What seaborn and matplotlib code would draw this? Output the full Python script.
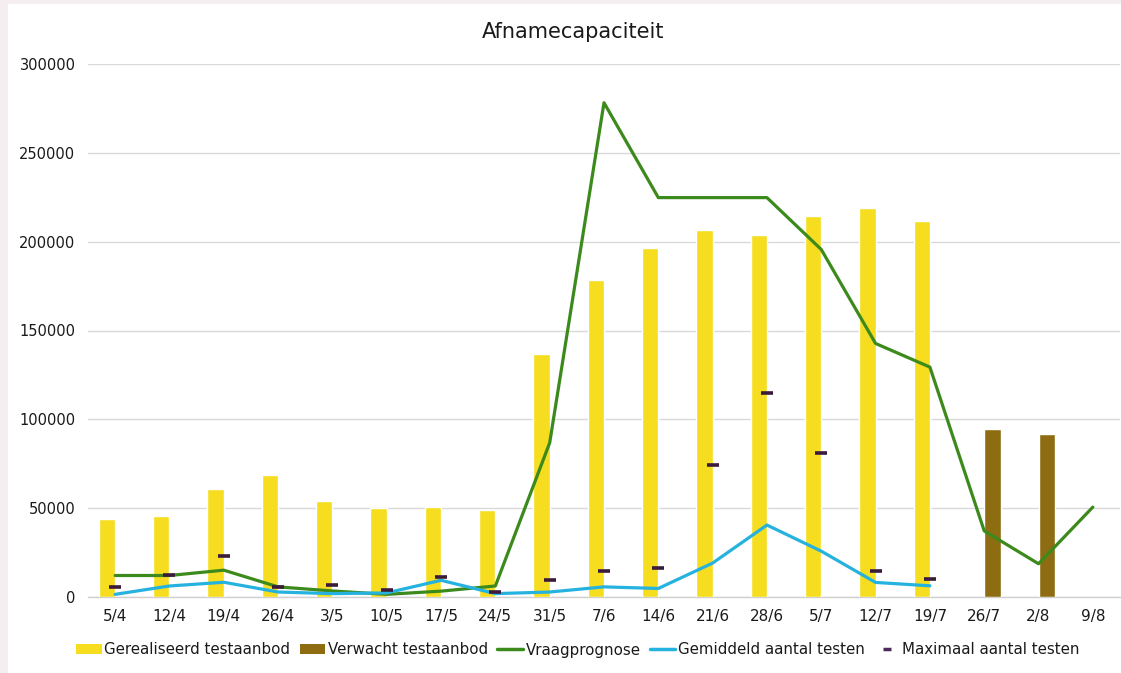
import numpy as np
import pandas as pd
import matplotlib
matplotlib.use("Agg")
import matplotlib.pyplot as plt
from matplotlib.patches import Patch, Rectangle
from matplotlib.lines import Line2D
import seaborn as sns

weeks = ["5/4", "12/4", "19/4", "26/4", "3/5", "10/5", "17/5", "24/5", "31/5",
         "7/6", "14/6", "21/6", "28/6", "5/7", "12/7", "19/7", "26/7", "2/8", "9/8"]

gerealiseerd = [43800, 45700, 60800, 68900, 53800, 50000, 50900, 49100, 137000,
                178400, 196200, 206700, 203800, 214300, 219100, 211800, np.nan, np.nan, np.nan]
verwacht = [np.nan] * 16 + [94300, 91600, np.nan]
vraagprognose = [12100, 12100, 15100, 5700, 3400, 1500, 3300, 6200, 86800,
                 278200, 224800, 224800, 224800, 195600, 142700, 129400, 37200, 18700, 50600]
gemiddeld = [1500, 6200, 8300, 2800, 1900, 2300, 9400, 1900, 2800,
             5700, 4800, 19100, 40500, 25800, 8200, 6300]
maximaal = [5800, 12500, 23000, 5800, 7000, 4000, 11500, 3000, 9800,
            14900, 16600, 74200, 114900, 80900, 14900, 10100]

yticks = [0, 50000, 100000, 150000, 200000, 250000, 300000]

c_yellow = "#f6dd1f"
c_brown = "#8e6d12"
c_green = "#3c8a1c"
c_blue = "#26b2de"
c_mark = "#3a1b3c"

sns.set_theme(style="white")
plt.rcParams['font.family'] = ['DejaVu Sans']

fig = plt.figure(figsize=(11.21, 6.73), dpi=100)
fig.patch.set_facecolor("#f5eef0")
fig.add_artist(Rectangle((8 / 1121, 0), 1 - 8 / 1121, 1 - 4 / 673,
                         transform=fig.transFigure, facecolor="white",
                         edgecolor="none", zorder=-10))

ax = fig.add_axes([88 / 1121, 1 - 597 / 673, (1120 - 88) / 1121, (597 - 64) / 673])
ax.set_facecolor("none")

n = len(weeks)
bars = pd.DataFrame({
    "week": weeks * 2,
    "series": ["Gerealiseerd testaanbod"] * n + ["Verwacht testaanbod"] * n,
    "value": list(gerealiseerd) + list(verwacht),
})
sns.barplot(data=bars, x="week", y="value", hue="series", order=weeks,
            hue_order=["Gerealiseerd testaanbod", "Verwacht testaanbod"],
            palette=[c_yellow, c_brown], width=0.6, saturation=1,
            errorbar=None, legend=False, ax=ax, zorder=2)

x = np.arange(n)
sns.lineplot(x=x, y=vraagprognose, color=c_green, linewidth=2.3, ax=ax, zorder=4)
sns.lineplot(x=x[:len(gemiddeld)], y=gemiddeld, color=c_blue, linewidth=2.3, ax=ax, zorder=5)
sns.lineplot(x=x[:len(maximaal)], y=maximaal, color=c_mark, linestyle="", marker="_",
             markersize=8.5, markeredgewidth=2.6, markeredgecolor=c_mark,
             markerfacecolor=c_mark, ax=ax, zorder=6)

ax.set_xlim(-0.5, n - 0.5)
ax.set_ylim(0, 300000)
ax.set_yticks(yticks)
ax.set_yticklabels([str(v) for v in yticks])
ax.set_xticks(x)
ax.set_xticklabels(weeks)
ax.set_xlabel("")
ax.set_ylabel("")
ax.grid(axis="y", color="#d9d9d9", linewidth=1.0, zorder=0)
ax.set_axisbelow(True)
for s in ["top", "right", "left"]:
    ax.spines[s].set_visible(False)
ax.spines["bottom"].set_color("#d0d0d0")
ax.spines["bottom"].set_linewidth(1.0)
ax.spines["bottom"].set_zorder(1)

ax.tick_params(axis="x", which="major", length=0, pad=9, labelsize=11, labelcolor="#1a1a1a")
ax.set_xticks(np.arange(-0.5, n, 1.0), minor=True)
ax.tick_params(axis="x", which="minor", length=5, width=1, color="#d0d0d0", direction="out")
ax.tick_params(axis="y", length=0, pad=9, labelsize=10.5, labelcolor="#1a1a1a")

fig.text(573 / 1121, 1 - 32 / 673, "Afnamecapaciteit", ha="center", va="center",
         fontsize=15, color="#1a1a1a")

handles = [
    Patch(facecolor=c_yellow, edgecolor="none"),
    Patch(facecolor=c_brown, edgecolor="none"),
    Line2D([], [], color=c_green, linewidth=2.5),
    Line2D([], [], color=c_blue, linewidth=2.5),
    Line2D([], [], color="#4a2a5a", linestyle="", marker="_", markersize=6, markeredgewidth=2.5),
]
labels = ["Gerealiseerd testaanbod", "Verwacht testaanbod", "Vraagprognose",
          "Gemiddeld aantal testen", "Maximaal aantal testen"]
leg = fig.legend(handles, labels, loc="center", bbox_to_anchor=(578 / 1121, 1 - 650 / 673),
                 ncol=5, frameon=False, fontsize=10.8, handlelength=1.7, handleheight=0.6,
                 handletextpad=0.2, columnspacing=0.6, borderaxespad=0)
for t in leg.get_texts():
    t.set_color("#1a1a1a")

fig.savefig("out.png", dpi=100, facecolor=fig.get_facecolor())
